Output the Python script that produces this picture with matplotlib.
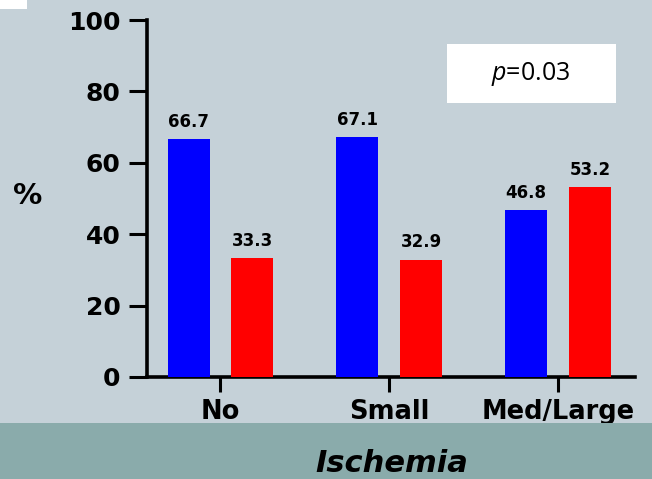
import matplotlib
matplotlib.use("Agg")
import matplotlib.pyplot as plt
from matplotlib.patches import Rectangle
import numpy as np

# values
categories = ["No", "Small", "Med/Large"]
blue_vals = [66.7, 67.1, 46.8]
red_vals = [33.3, 32.9, 53.2]
y_ticks = [0, 20, 40, 60, 80, 100]
p_text = r"$\mathit{p}$=0.03"

bg = "#c5d1d8"
band = "#8aabab"

plt.rcParams["mathtext.fontset"] = "custom"
plt.rcParams["mathtext.it"] = "Open Sans:italic"
plt.rcParams["mathtext.rm"] = "Open Sans"

fig = plt.figure(figsize=(6.52, 4.79), dpi=100, facecolor=bg)

# darker band at the bottom
fig.patches.append(Rectangle((0, 0), 1, 56 / 479, transform=fig.transFigure,
                             facecolor=band, edgecolor="none", zorder=0))
# small white patch in the top-left corner
fig.patches.append(Rectangle((0, 1 - 9 / 479), 27 / 652, 9 / 479, transform=fig.transFigure,
                             facecolor="white", edgecolor="none", zorder=0))

ax = fig.add_axes([147 / 652, 102 / 479, 488 / 652, 357 / 479])
ax.set_facecolor("none")

x = np.arange(len(categories))
w = 0.249
off = 0.189
b1 = ax.bar(x - off, blue_vals, w, color="#0000ff", zorder=3)
b2 = ax.bar(x + off, red_vals, w, color="#ff0000", zorder=3)

for bars, vals in [(b1, blue_vals), (b2, red_vals)]:
    for rect, v in zip(bars, vals):
        ax.annotate(f"{v:.1f}", (rect.get_x() + rect.get_width() / 2, v),
                    xytext=(0, 6), textcoords="offset points",
                    ha="center", va="bottom", fontsize=12, fontweight="bold",
                    family="DejaVu Sans")

ax.set_xlim(-0.435, 2.456)
ax.set_ylim(0, 100)
ax.set_yticks(y_ticks)
ax.set_yticklabels([str(t) for t in y_ticks], fontsize=18, fontweight="bold")
ax.set_xticks(x)
ax.set_xticklabels(categories, fontsize=18.5, fontweight="bold")

for s in ["top", "right"]:
    ax.spines[s].set_visible(False)
for s in ["left", "bottom"]:
    ax.spines[s].set_linewidth(2.6)
ax.tick_params(axis="y", length=13, width=2.2, pad=6)
ax.tick_params(axis="x", length=11, width=2.2, pad=5)

fig.text(28 / 652, 1 - 196 / 479, "%", fontsize=21, fontweight="bold",
         ha="center", va="center")
fig.text(392 / 652, 1 - 463 / 479, "Ischemia", fontsize=22, fontweight="bold",
         fontstyle="italic", ha="center", va="center")

# p-value box
fig.patches.append(Rectangle((447 / 652, 1 - 103 / 479), 169 / 652, 59 / 479,
                             transform=fig.transFigure, facecolor="white",
                             edgecolor="none", zorder=1))
fig.text(531 / 652, 1 - 74 / 479, p_text, fontsize=18, family="Open Sans",
         ha="center", va="center", zorder=2)

fig.savefig("out.png", dpi=100, facecolor=bg)
